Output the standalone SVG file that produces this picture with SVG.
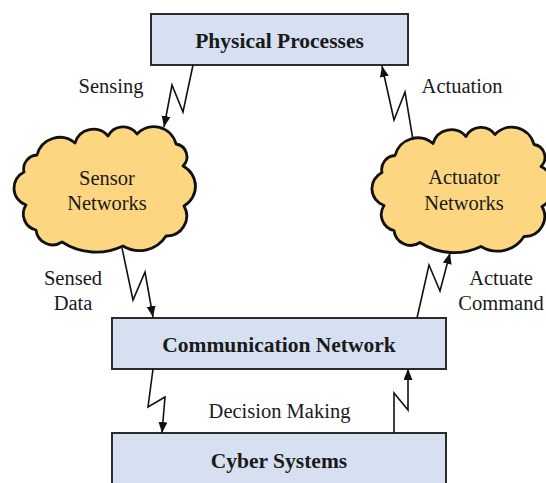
<svg xmlns="http://www.w3.org/2000/svg" width="546" height="483" viewBox="0 0 546 483">
<defs>
<style>
.box{fill:#d6e0f1;stroke:#2b2b2b;stroke-width:2}
.cloud{fill:#fdd681;stroke:#111;stroke-width:2.8;stroke-linejoin:round}
.t{font-family:'Liberation Serif','Times New Roman',Times,serif;fill:#1a1a1a;text-anchor:middle}
.b{font-weight:bold;font-size:21.5px}
.r{font-size:20.5px}
.c{fill:none;stroke:#111;stroke-width:1.6;stroke-linejoin:miter}
</style>
<marker id="ah" markerUnits="userSpaceOnUse" markerWidth="12" markerHeight="10" refX="11" refY="4.5" orient="auto">
<path d="M0,0 L11,4.5 L0,9 z" fill="#111"/>
</marker>
<path id="cloudShape" d="M75 143 A19.2 19.2 0 0 1 108 136 A17.1 17.1 0 0 1 137 134 A22.9 22.9 0 0 1 176 144 A12.9 12.9 0 0 1 183 166 A22.7 22.7 0 0 1 184 206 A20 20 0 0 1 166 236 A31.5 31.5 0 0 1 123 246 A62.3 62.3 0 0 1 62 242 A16.8 16.8 0 0 1 36 230 A16.4 16.4 0 0 1 26 205 A17.9 17.9 0 0 1 24 172 A14 14 0 0 1 37 155 A23.5 23.5 0 0 1 75 143 Z"/>
</defs>

<g id="physical-processes">
<rect class="box" x="151" y="14" width="257" height="51"/>
<text class="t b" x="279.5" y="47.5">Physical Processes</text>
</g>

<g id="sensor-networks">
<use href="#cloudShape" class="cloud"/>
<text class="t r" x="107" y="185">Sensor</text>
<text class="t r" x="107" y="210">Networks</text>
</g>

<g id="actuator-networks">
<use href="#cloudShape" class="cloud" transform="translate(358,0.5)"/>
<text class="t r" x="464" y="184">Actuator</text>
<text class="t r" x="464" y="210">Networks</text>
</g>

<g id="communication-network">
<rect class="box" x="112" y="318" width="334" height="51"/>
<text class="t b" x="279" y="351.5">Communication Network</text>
</g>

<g id="cyber-systems">
<rect class="box" x="112" y="433" width="334" height="60"/>
<text class="t b" x="279" y="468">Cyber Systems</text>
</g>

<g id="connectors">
<polyline class="c" points="193,65 183,112 172,85 164,127" marker-end="url(#ah)"/>
<polyline class="c" points="413,140 405,92 394,120 382,66" marker-end="url(#ah)"/>
<polyline class="c" points="122,248 133,300 145,272 153,317" marker-end="url(#ah)"/>
<polyline class="c" points="417,318 429,265 440,291 450,253" marker-end="url(#ah)"/>
<polyline class="c" points="153,369 148,407 165,397 162,433" marker-end="url(#ah)"/>
<polyline class="c" points="394,433 394,393 408,410 408,369" marker-end="url(#ah)"/>
</g>

<g id="labels">
<text class="t r" x="111" y="93">Sensing</text>
<text class="t r" x="462" y="93">Actuation</text>
<text class="t r" x="73" y="285">Sensed</text>
<text class="t r" x="73" y="310">Data</text>
<text class="t r" x="501" y="285">Actuate</text>
<text class="t r" x="501" y="310">Command</text>
<text class="t r" x="279.5" y="418">Decision Making</text>
</g>
</svg>
